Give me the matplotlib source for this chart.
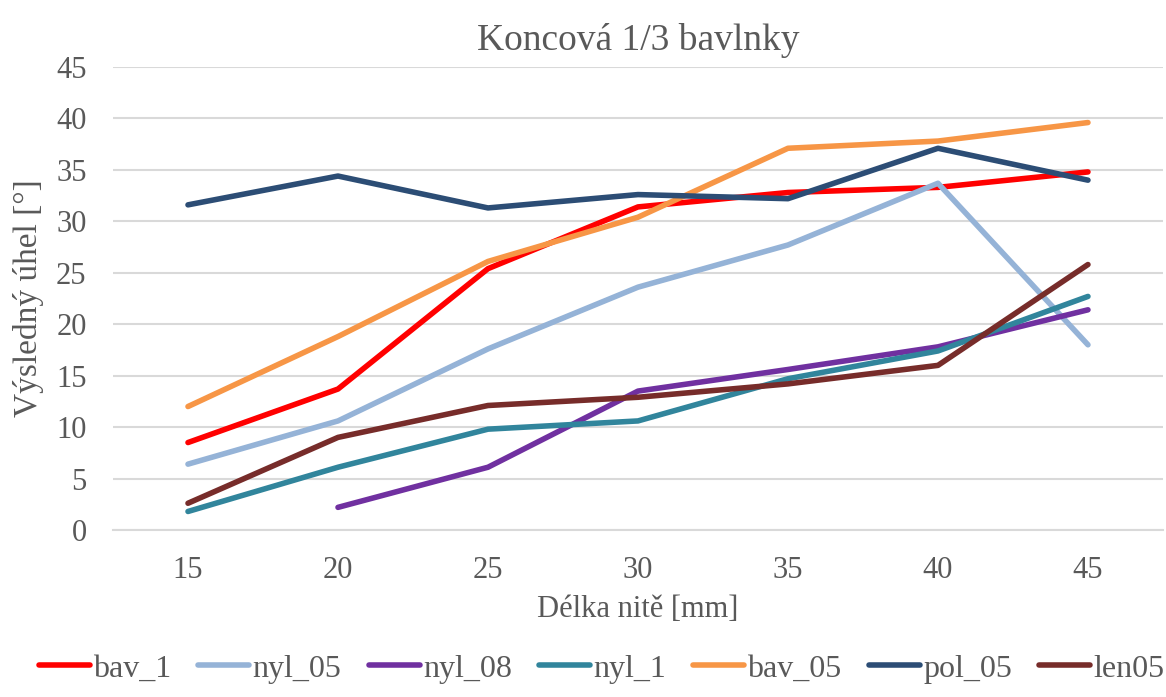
import matplotlib
matplotlib.use("Agg")
import matplotlib.pyplot as plt

plt.rcParams["font.family"] = ["Liberation Serif", "DejaVu Serif"]

# thread length categories [mm]
lengths = ["15", "20", "25", "30", "35", "40", "45"]

bav_1 = [8.5, 13.7, 25.4, 31.4, 32.8, 33.3, 34.8]
nyl_05 = [6.4, 10.6, 17.6, 23.6, 27.7, 33.7, 18.0]
nyl_08 = [None, 2.2, 6.1, 13.5, 15.6, 17.8, 21.4]
nyl_1 = [1.8, 6.1, 9.8, 10.6, 14.7, 17.4, 22.7]
bav_05 = [12.0, 18.8, 26.1, 30.4, 37.1, 37.8, 39.6]
pol_05 = [31.6, 34.4, 31.3, 32.6, 32.2, 37.1, 34.0]
len05 = [2.6, 9.0, 12.1, 12.9, 14.2, 16.0, 25.8]

series = [
    ("bav_1", bav_1, "#FF0000"),
    ("nyl_05", nyl_05, "#95B3D7"),
    ("nyl_08", nyl_08, "#7030A0"),
    ("nyl_1", nyl_1, "#31859C"),
    ("bav_05", bav_05, "#F79646"),
    ("pol_05", pol_05, "#2C4D75"),
    ("len05", len05, "#772C2A"),
]

txt = "#595959"

fig = plt.figure(figsize=(11.66, 6.97), dpi=100)
ax = fig.add_axes([0.0969, 0.2396, 0.9005, 0.6643])

x = list(range(len(lengths)))
for name, vals, color in series:
    xs = [i for i, v in zip(x, vals) if v is not None]
    ys = [v for v in vals if v is not None]
    ax.plot(xs, ys, color=color, lw=4, label=name,
            solid_capstyle="round", solid_joinstyle="round")

ax.set_xlim(-0.5, len(lengths) - 0.5)
ax.set_ylim(0, 45)
ax.set_yticks(range(0, 46, 5))
ax.set_xticks(x)
ax.set_xticklabels(lengths)
ax.grid(axis="y", color="#D9D9D9", lw=1.5)
ax.set_axisbelow(True)
for side in ["top", "right", "left"]:
    ax.spines[side].set_visible(False)
ax.spines["bottom"].set_color("#D9D9D9")
ax.spines["bottom"].set_linewidth(1.5)
ax.tick_params(length=0, labelsize=22, colors=txt)
ax.tick_params(axis="y", pad=19)
ax.tick_params(axis="x", pad=19)

ax.set_title("Koncová 1/3 bavlnky", fontsize=27, color=txt, pad=12)
ax.set_xlabel("Délka nitě [mm]", fontsize=22, color=txt, labelpad=7)
ax.set_ylabel("Výsledný úhel [°]", fontsize=24, color=txt, labelpad=9)

fig.legend(loc="lower center", ncol=7, frameon=False, fontsize=23,
           bbox_to_anchor=(0.516, -0.022), handlelength=1.6, handletextpad=0.1,
           columnspacing=0.85, labelcolor=txt)

fig.savefig("out.png", dpi=100)
